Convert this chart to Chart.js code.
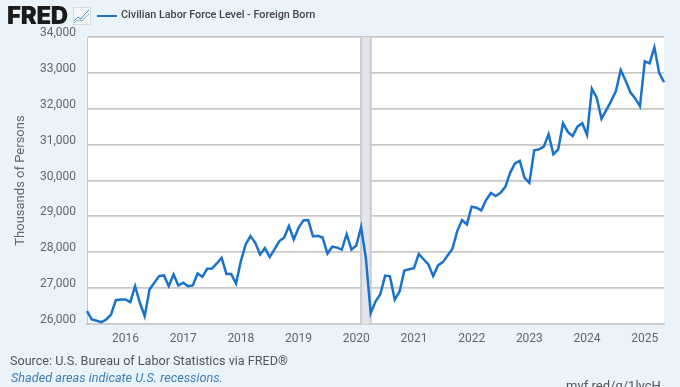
<!DOCTYPE html>
<html>
<head>
<meta charset="utf-8">
<script src="https://cdn.jsdelivr.net/npm/chart.js@4"></script>
<style>
  html, body { margin: 0; padding: 0; }
  body { width: 680px; height: 387px; overflow: hidden; background: #eaf2fa; position: relative; font-family: Roboto, sans-serif; }
  canvas { position: absolute; left: 0; top: 0; }
  .txt { position: absolute; white-space: nowrap; }
  #logo { left: 7px; top: 0px; font: 900 24px/31px Inter, sans-serif; letter-spacing: -0.3px; color: #1b1b1b; }
  #icon { position: absolute; left: 73px; top: 7px; }
  #legendLine { position: absolute; left: 97px; top: 14.5px; width: 20px; height: 2px; background: #1a72cc; }
  #legendText { left: 121px; top: 7px; font: 500 10.8px/16px Roboto, sans-serif; color: #444; }
  #source { left: 10px; top: 353px; font: 12.6px/16px Roboto, sans-serif; color: #555; }
  #shaded { left: 11px; top: 370px; font: italic 12.7px/16px Roboto, sans-serif; color: #3f7fb8; }
  #short { left: 566px; top: 378px; font: 13px/16px Roboto, sans-serif; color: #555; }
</style>
</head>
<body>
<canvas id="chart1" width="680" height="387"></canvas>
<div class="txt" id="logo">FRED</div>
<svg id="icon" width="18" height="18" viewBox="0 0 18 18">
  <rect x="0.5" y="0.5" width="17" height="17" fill="#f4f7fa" stroke="#d5dbe2"/>
  <polyline points="1,14 5,10 8,12 12,7 16,3" fill="none" stroke="#4a90d0" stroke-width="1"/>
  <polyline points="1,16 5,13 9,14 13,10 16,7" fill="none" stroke="#7cb8a8" stroke-width="1"/>
</svg>
<div id="legendLine"></div>
<div class="txt" id="legendText">Civilian Labor Force Level - Foreign Born</div>
<div class="txt" id="source">Source: U.S. Bureau of Labor Statistics via FRED®</div>
<div class="txt" id="shaded">Shaded areas indicate U.S. recessions.</div>
<div class="txt" id="short">myf.red/g/1lycH</div>
<script>
// ================== Data ==================
const startYear = 2015;
const startMonth = 5;
const yTicks = [26000, 27000, 28000, 29000, 30000, 31000, 32000, 33000, 34000];
const recession = ["2020-02", "2020-04"];
const laborForce = [
  26358, 26126, 26089, 26051, 26126, 26265, 26665, 26684,
  26684, 26609, 27056, 26591, 26219, 26963, 27149, 27335, 27353, 27056, 27381, 27074, 27149, 27056,
  27074, 27409, 27316, 27539, 27549, 27688, 27846, 27391, 27391, 27130, 27753, 28218,
  28451, 28265, 27939, 28116, 27865, 28079, 28311, 28404, 28730, 28358,
  28683, 28888, 28897, 28440, 28460, 28410, 27960, 28155, 28130, 28074, 28502, 28074,
  28186, 28698, 27833, 26298, 26624, 26828, 27349, 27330, 26679, 26903, 27488, 27526,
  27554, 27953, 27805, 27660, 27335, 27632, 27725, 27911, 28097, 28590, 28897, 28776,
  29269, 29241, 29167, 29455, 29650, 29565, 29655, 29823, 30214, 30474, 30549, 30074,
  29935, 30840, 30868, 30944, 31288, 30730, 30870, 31595, 31353, 31242, 31502, 31595,
  31270, 32558, 32308, 31722, 31963, 32214, 32493, 33078, 32786, 32460, 32293, 32074,
  33320, 33265, 33711, 33000, 32740
];

// one "YYYY-MM" label per value
const months = laborForce.map((v, i) => {
  const m = startMonth - 1 + i;
  return `${startYear + Math.floor(m / 12)}-${String(m % 12 + 1).padStart(2, "0")}`;
});

// ================== Recession band ==================
const recessionBand = {
  id: "recessionBand",
  beforeDatasetsDraw(chart) {
    const { ctx, chartArea, scales } = chart;
    const x1 = scales.x.getPixelForValue(months.indexOf(recession[0]));
    const x2 = scales.x.getPixelForValue(months.indexOf(recession[1]));
    ctx.save();
    ctx.fillStyle = "#e2e6ec";
    ctx.fillRect(x1, chartArea.top, x2 - x1, chartArea.height);
    ctx.fillStyle = "#c8ccd1";
    ctx.fillRect(x1 - 1, chartArea.top, 2, chartArea.height);
    ctx.fillRect(x2 - 1, chartArea.top, 2, chartArea.height);
    ctx.restore();
  },
};

const whitePlot = {
  id: "whitePlot",
  beforeDraw(chart) {
    const { ctx, chartArea } = chart;
    ctx.save();
    ctx.fillStyle = "#ffffff";
    ctx.fillRect(chartArea.left, chartArea.top, chartArea.width, chartArea.height);
    ctx.restore();
  },
};

// ================== Chart ==================
new Chart(document.getElementById("chart1"), {
  type: "line",
  data: {
    labels: months,
    datasets: [
      {
        label: "Civilian Labor Force Level - Foreign Born",
        data: laborForce,
        borderColor: "#1a72cc",
        borderWidth: 2.5,
        pointRadius: 0,
        tension: 0,
      },
    ],
  },
  plugins: [whitePlot, recessionBand],
  options: {
    responsive: false,
    animation: false,
    layout: { padding: { top: 37, right: 16, left: 0, bottom: 0 } },
    plugins: { legend: { display: false }, tooltip: { enabled: false } },
    scales: {
      x: {
        offset: false,
        afterFit: (scale) => { scale.height = 63; },
        grid: { display: false },
        border: { color: "#c8c8c8", width: 1.5 },
        ticks: {
          autoSkip: false,
          maxRotation: 0,
          color: "#666",
          padding: 0,
          font: { family: "Roboto", size: 12 },
          callback(value) {
            const label = months[value];
            return label.endsWith("-01") ? label.slice(0, 4) : "";
          },
        },
      },
      y: {
        min: yTicks[0],
        max: yTicks[yTicks.length - 1],
        afterFit: (scale) => { scale.width = 87; },
        afterBuildTicks: (scale) => { scale.ticks = yTicks.map((value) => ({ value })); },
        grid: { color: "#c8c8c8", lineWidth: 1.8, drawTicks: false },
        border: { color: "#c8c8c8", width: 1 },
        title: {
          display: true,
          text: "Thousands of Persons",
          color: "#666",
          font: { family: "Roboto", size: 13 },
          padding: { top: 13, bottom: 0 },
        },
        ticks: {
          color: "#666",
          padding: 11,
          labelOffset: -4,
          font: { family: "Roboto", size: 12 },
          callback: (value) => value.toLocaleString("en-US"),
        },
      },
    },
  },
});
</script>
</body>
</html>
